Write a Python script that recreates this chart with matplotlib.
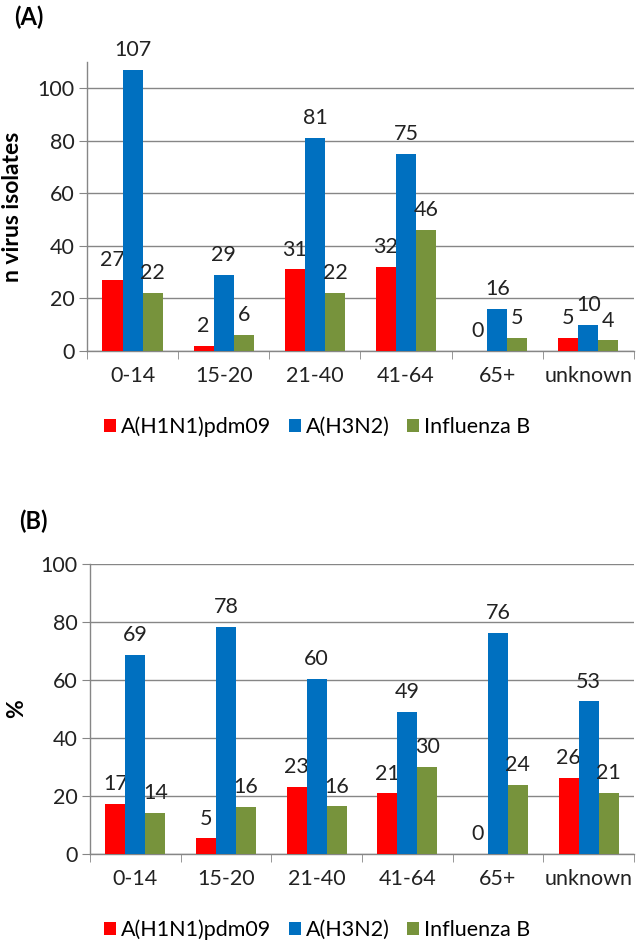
import matplotlib.pyplot as plt
import numpy as np

plt.rcParams["font.family"] = ["Lato", "DejaVu Sans"]

age_groups = ["0-14", "15-20", "21-40", "41-64", "65+", "unknown"]
series_names = ["A(H1N1)pdm09", "A(H3N2)", "Influenza B"]
series_colors = ["#FF0000", "#0070C0", "#77933C"]

# (A) number of isolates
h1n1_n = [27, 2, 31, 32, 0, 5]
h3n2_n = [107, 29, 81, 75, 16, 10]
flub_n = [22, 6, 22, 46, 5, 4]

# (B) percent per age group
h1n1_pct = [17.3, 5.4, 23.1, 20.9, 0.0, 26.3]
h3n2_pct = [68.6, 78.4, 60.4, 49.0, 76.2, 52.6]
flub_pct = [14.1, 16.2, 16.4, 30.1, 23.8, 21.1]

GRAY = "#868686"
FS = 15.5


def draw_panel(ax, series, ymax, ylabel):
    x = np.arange(len(age_groups))
    width = 0.22
    for i, (vals, color, name) in enumerate(zip(series, series_colors, series_names)):
        pos = x + (i - 1) * width
        ax.bar(pos, vals, width=width, color=color, label=name, zorder=3)
        for px, v in zip(pos, vals):
            ax.annotate(
                f"{v:.0f}",
                (px, v),
                xytext=(0, 7),
                textcoords="offset points",
                ha="center",
                va="bottom",
                fontsize=FS,
                color="#222222",
            )

    ax.set_xlim(-0.5, len(age_groups) - 0.5)
    ax.set_ylim(0, ymax)
    ax.set_yticks(range(0, 101, 20))
    ax.set_xticks(x)
    ax.set_xticklabels(age_groups, fontsize=FS)
    ax.set_xticks(np.arange(-0.5, len(age_groups)), minor=True)
    ax.tick_params(axis="x", which="major", length=0, pad=11, colors="#222222")
    ax.tick_params(axis="x", which="minor", length=6, color=GRAY)
    ax.tick_params(axis="y", length=6, color=GRAY, labelsize=FS, colors="#222222", pad=3)

    ax.yaxis.grid(True, color=GRAY, linewidth=1, zorder=0)
    for side in ["top", "right"]:
        ax.spines[side].set_visible(False)
    for side in ["left", "bottom"]:
        ax.spines[side].set_color(GRAY)
        ax.spines[side].set_linewidth(1)

    ax.set_ylabel(ylabel, fontsize=16.5, fontweight="bold")


fig = plt.figure(figsize=(6.41, 9.48), dpi=100)

ax_a = fig.add_axes([0.1357, 0.630, 0.8533, 0.3045])
draw_panel(ax_a, [h1n1_n, h3n2_n, flub_n], 110, "n virus isolates")
ax_a.yaxis.set_label_coords(-0.117, 0.5)

ax_b = fig.add_axes([0.1404, 0.0992, 0.8486, 0.3059])
draw_panel(ax_b, [h1n1_pct, h3n2_pct, flub_pct], 100, "%")
ax_b.yaxis.set_label_coords(-0.115, 0.5)

fig.text(0.022, 0.982, "(A)", fontsize=17, fontweight="bold", va="center")
fig.text(0.030, 0.450, "(B)", fontsize=17, fontweight="bold", va="center")

handles, labels = ax_a.get_legend_handles_labels()
for y in [1 - 427 / 948, 1 - 930 / 948]:
    fig.legend(
        handles,
        labels,
        loc="center",
        bbox_to_anchor=(0.495, y),
        ncol=3,
        frameon=False,
        fontsize=FS,
        handlelength=0.55,
        handleheight=0.55,
        handletextpad=0.25,
        columnspacing=0.8,
    )

fig.savefig("out.png", dpi=100)
